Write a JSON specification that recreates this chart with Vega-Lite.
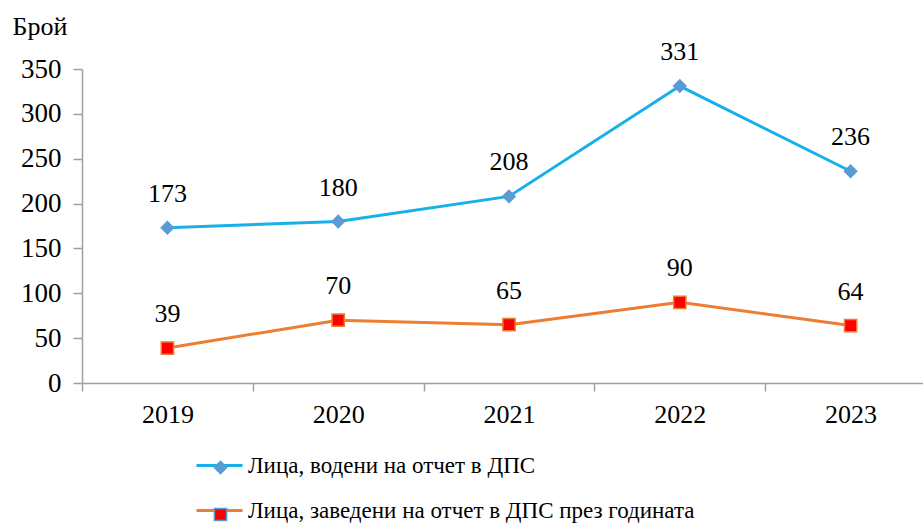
{
  "$schema": "https://vega.github.io/schema/vega-lite/v6.json",
  "autosize": "none",
  "width": 841,
  "height": 314,
  "padding": {"left": 82, "top": 69, "right": 0, "bottom": 144},
  "background": "white",
  "config": {
    "view": {"stroke": null},
    "font": "Liberation Serif",
    "axis": {"labelFont": "Liberation Serif", "titleFont": "Liberation Serif", "labelColor": "black", "titleColor": "black"},
    "legend": {"labelFont": "Liberation Serif", "labelColor": "black"}
  },
  "data": {
    "values": [
      {"year": "2019", "value": 173, "series": "Лица, водени на отчет в ДПС", "marker": "Лица, водени на отчет в ДПС"},
      {"year": "2020", "value": 180, "series": "Лица, водени на отчет в ДПС", "marker": "Лица, водени на отчет в ДПС"},
      {"year": "2021", "value": 208, "series": "Лица, водени на отчет в ДПС", "marker": "Лица, водени на отчет в ДПС"},
      {"year": "2022", "value": 331, "series": "Лица, водени на отчет в ДПС", "marker": "Лица, водени на отчет в ДПС"},
      {"year": "2023", "value": 236, "series": "Лица, водени на отчет в ДПС", "marker": "Лица, водени на отчет в ДПС"},
      {"year": "2019", "value": 39, "series": "Лица, заведени на отчет в ДПС през годината", "marker": "Лица, заведени на отчет в ДПС през годината"},
      {"year": "2020", "value": 70, "series": "Лица, заведени на отчет в ДПС през годината", "marker": "Лица, заведени на отчет в ДПС през годината"},
      {"year": "2021", "value": 65, "series": "Лица, заведени на отчет в ДПС през годината", "marker": "Лица, заведени на отчет в ДПС през годината"},
      {"year": "2022", "value": 90, "series": "Лица, заведени на отчет в ДПС през годината", "marker": "Лица, заведени на отчет в ДПС през годината"},
      {"year": "2023", "value": 64, "series": "Лица, заведени на отчет в ДПС през годината", "marker": "Лица, заведени на отчет в ДПС през годината"}
    ]
  },
  "encoding": {
    "x": {
      "field": "year", "type": "ordinal",
      "scale": {"type": "band", "paddingInner": 0, "paddingOuter": 0, "range": [0, 854]},
      "axis": {
        "title": null, "labelAngle": 0, "labelFontSize": 26, "tickBand": "extent",
        "domainColor": "#A0A0A0", "tickColor": "#A0A0A0", "tickSize": 8, "labelPadding": 10,
        "domainWidth": 1.5, "tickWidth": 1.5
      }
    },
    "y": {
      "field": "value", "type": "quantitative",
      "scale": {"domain": [0, 350], "nice": false},
      "axis": {
        "title": "Брой", "titleAngle": 0, "titleAlign": "left", "titleBaseline": "alphabetic",
        "titleX": -70, "titleY": -35, "titleFontSize": 26, "titleFontWeight": "normal",
        "values": [0, 50, 100, 150, 200, 250, 300, 350], "grid": false,
        "labelFontSize": 27, "domainColor": "#A0A0A0", "tickColor": "#A0A0A0",
        "tickSize": 9, "labelPadding": 12, "domainWidth": 1.5, "tickWidth": 1.5
      }
    }
  },
  "layer": [
    {
      "mark": {"type": "line", "strokeWidth": 3},
      "encoding": {
        "stroke": {
          "field": "series", "type": "nominal",
          "scale": {"domain": ["Лица, водени на отчет в ДПС", "Лица, заведени на отчет в ДПС през годината"], "range": ["#17B0EA", "#ED7D31"]},
          "legend": {
            "title": null, "orient": "none", "legendX": 113, "legendY": 372,
            "direction": "vertical", "labelFontSize": 23, "symbolType": "stroke", "labelLimit": 800,
            "symbolSize": 2116, "symbolStrokeWidth": 3, "rowPadding": 8, "labelOffset": 4
          }
        }
      }
    },
    {
      "mark": {"type": "point", "filled": true, "opacity": 1, "size": 150, "strokeWidth": 1.5},
      "encoding": {
        "shape": {
          "field": "marker", "type": "nominal",
          "scale": {"range": ["diamond", "square"]},
          "legend": {
            "title": null, "orient": "none", "legendX": 127, "legendY": 387,
            "direction": "vertical", "labelFontSize": 23, "labelOpacity": 0, "labelLimit": 800,
            "labelExpr": "''",
            "symbolSize": 150, "rowPadding": 23, "labelOffset": 8
          }
        },
        "fill": {
          "field": "marker", "type": "nominal",
          "scale": {"range": ["#5B9BD5", "#FF0000"]},
          "legend": null
        },
        "stroke": {
          "condition": {"test": "datum.marker == 'Лица, заведени на отчет в ДПС през годината'", "value": "#ED7D31"},
          "value": "#5B9BD5"
        }
      }
    },
    {
      "mark": {"type": "text", "dy": -34, "fontSize": 26, "font": "Liberation Serif", "color": "black"},
      "encoding": {
        "text": {"field": "value", "type": "quantitative"}
      }
    }
  ]
}
